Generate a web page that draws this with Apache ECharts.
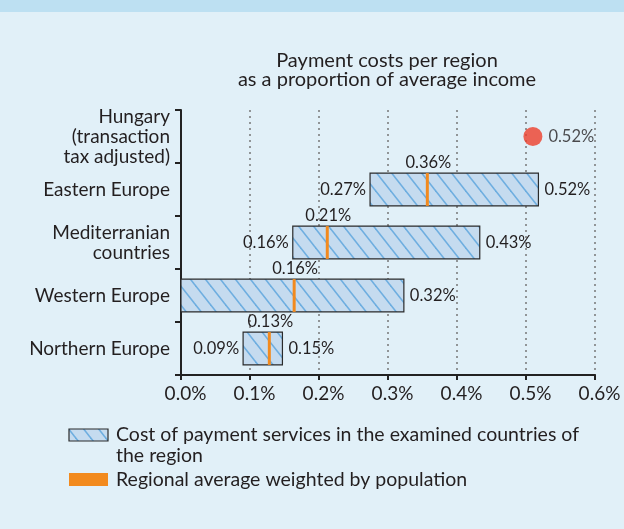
<!DOCTYPE html>
<html>
<head>
<meta charset="utf-8">
<script src="https://cdn.jsdelivr.net/npm/echarts@6/dist/echarts.min.js"></script>
<style>
    html, body { margin: 0; padding: 0; background: #e1f0f8; }
    #chart { width: 624px; height: 529px; }
</style>
</head>
<body>
<div id="chart"></div>
<script>
// categories, bottom to top
const categories = ['Northern Europe', 'Western Europe', 'Mediterranian\ncountries', 'Eastern Europe', 'Hungary\n(transaction\ntax adjusted)'];
// range of cost in the examined countries (%)
const rangeLow = [0.090, 0.0, 0.162, 0.274];
const rangeHigh = [0.147, 0.323, 0.433, 0.518];
// population weighted regional average (%)
const regionAvg = [0.128, 0.164, 0.212, 0.357];
const lowLabels = ['0.09%', '', '0.16%', '0.27%'];
const highLabels = ['0.15%', '0.32%', '0.43%', '0.52%'];
const avgLabels = ['0.13%', '0.16%', '0.21%', '0.36%'];
// Hungary point
const hungaryValue = 0.51;
const hungaryLabel = '0.52%';

const FONT = 'Lato';
const TEXT = '#231f20';

// diagonal hatch pattern
function makeHatch() {
    let c = document.createElement('canvas');
    c.width = 15; c.height = 19;
    let ctx = c.getContext('2d');
    ctx.fillStyle = '#c5dbef';
    ctx.fillRect(0, 0, 15, 19);
    ctx.strokeStyle = '#6eaee0';
    ctx.lineWidth = 1.6;
    for (let k = -1; k <= 1; k++) {
        ctx.beginPath();
        ctx.moveTo(k * 15 - 15, -19);
        ctx.lineTo(k * 15 + 30, 38);
        ctx.stroke();
    }
    return c;
}
const hatch = { image: makeHatch(), repeat: 'repeat' };

let rows = rangeLow.map((v, i) => [v, rangeHigh[i], regionAvg[i], i]);

let myChart = echarts.init(document.getElementById('chart'));
let options = {
    backgroundColor: '#e1f0f8',
    animation: false,
    textStyle: { fontFamily: FONT },
    grid: { left: 181, right: 29, top: 110, bottom: 154 },
    xAxis: {
        type: 'value',
        min: 0,
        max: 0.6,
        interval: 0.1,
        axisLine: { show: true, lineStyle: { color: '#222', width: 2 } },
        axisTick: { show: true, length: 5, lineStyle: { color: '#222', width: 2 } },
        axisLabel: {
            color: TEXT, fontSize: 19, fontFamily: FONT, margin: 9,
            padding: [0, 0, 0, 9],
            formatter: v => v.toFixed(1) + '%'
        },
        splitLine: { show: true, lineStyle: { color: '#777', width: 1.5, type: [2, 4] } }
    },
    yAxis: {
        type: 'category',
        data: categories,
        axisLine: { show: true, lineStyle: { color: '#222', width: 2 } },
        axisTick: { show: true, length: 6, lineStyle: { color: '#222', width: 2 } },
        axisLabel: { color: TEXT, fontSize: 19, fontFamily: FONT, lineHeight: 20, margin: 11, align: 'right' },
        splitLine: { show: false }
    },
    series: [{
        type: 'custom',
        data: rows,
        encode: { x: [0, 1, 2], y: 3 },
        renderItem: function (params, api) {
            let i = params.dataIndex;
            let cat = api.value(3);
            let p0 = api.coord([api.value(0), cat]);
            let p1 = api.coord([api.value(1), cat]);
            let pa = api.coord([api.value(2), cat]);
            let h = api.size([0, 1])[1] * 0.62;
            let top = p0[1] - h / 2;
            let lbl = { fill: TEXT, fontSize: 16.5, fontFamily: FONT };
            return {
                type: 'group',
                children: [
                    { type: 'rect', shape: { x: p0[0], y: top, width: p1[0] - p0[0], height: h },
                      style: { fill: hatch, stroke: '#2b2b2b', lineWidth: 1.2 } },
                    { type: 'line', shape: { x1: pa[0], y1: top, x2: pa[0], y2: top + h },
                      style: { stroke: '#f28a1e', lineWidth: 3 } },
                    { type: 'text', x: p0[0] - 4, y: p0[1],
                      style: Object.assign({ text: lowLabels[i], align: 'right', verticalAlign: 'middle' }, lbl) },
                    { type: 'text', x: p1[0] + 6, y: p1[1],
                      style: Object.assign({ text: highLabels[i], align: 'left', verticalAlign: 'middle' }, lbl) },
                    { type: 'text', x: pa[0] + 1, y: top - 2,
                      style: Object.assign({ text: avgLabels[i], align: 'center', verticalAlign: 'bottom' }, lbl) }
                ]
            };
        },
        z: 3
    }, {
        type: 'scatter',
        data: [[hungaryValue, 4]],
        symbolSize: 19,
        itemStyle: { color: '#ee3e2b' },
        label: {
            show: true, position: 'right', distance: 6,
            color: TEXT, fontSize: 16.5, fontFamily: FONT,
            formatter: () => hungaryLabel
        },
        z: 4
    }],
    graphic: [
        { type: 'rect', left: 0, top: 0, shape: { width: 624, height: 12 }, style: { fill: '#bde0f2' } },
        { type: 'text', x: 387, y: 61, style: { text: 'Payment costs per region', fill: TEXT, fontSize: 20, fontFamily: FONT, align: 'center', verticalAlign: 'middle' } },
        { type: 'text', x: 387, y: 80, style: { text: 'as a proportion of average income', fill: TEXT, fontSize: 20, fontFamily: FONT, align: 'center', verticalAlign: 'middle' } },
        // legend
        { type: 'rect', shape: { x: 69, y: 429, width: 39, height: 12 }, style: { fill: hatch, stroke: '#2b2b2b', lineWidth: 1.2 } },
        { type: 'text', x: 116, y: 435, style: { text: 'Cost of payment services in the examined countries of', fill: TEXT, fontSize: 19.5, fontFamily: FONT, verticalAlign: 'middle' } },
        { type: 'text', x: 116, y: 456, style: { text: 'the region', fill: TEXT, fontSize: 19.5, fontFamily: FONT, verticalAlign: 'middle' } },
        { type: 'rect', shape: { x: 69, y: 473, width: 39, height: 13 }, style: { fill: '#f28a1e' } },
        { type: 'text', x: 116, y: 480, style: { text: 'Regional average weighted by population', fill: TEXT, fontSize: 19.5, fontFamily: FONT, verticalAlign: 'middle' } }
    ]
};
myChart.setOption(options);
window.addEventListener('resize', () => { myChart.resize(); });
</script>
</body>
</html>
